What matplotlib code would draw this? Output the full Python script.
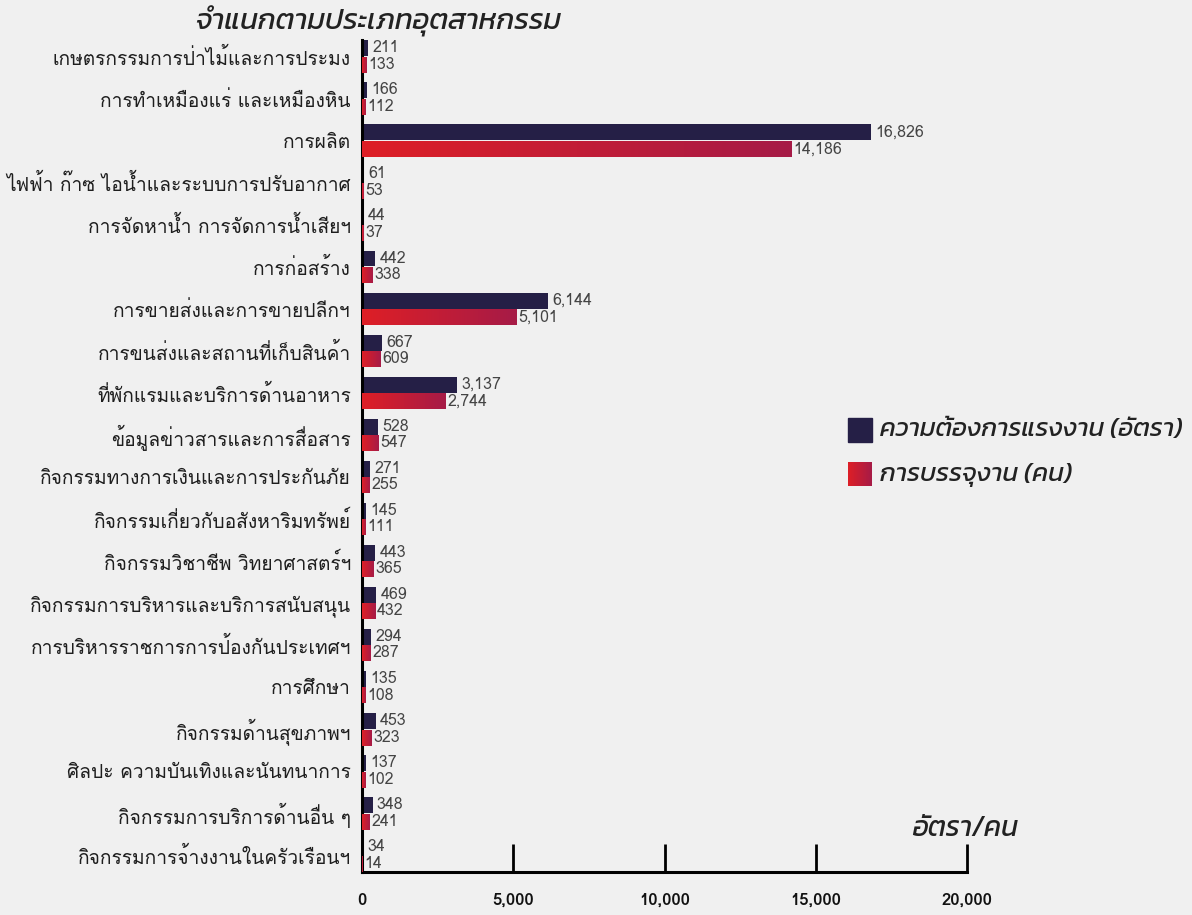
import numpy as np
import matplotlib
matplotlib.use("Agg")
import matplotlib.pyplot as plt
from matplotlib.colors import LinearSegmentedColormap
from matplotlib.patches import Rectangle

# ข้อมูล
categories = [
    "เกษตรกรรมการป่าไม้และการประมง",
    "การทำเหมืองแร่ และเหมืองหิน",
    "การผลิต",
    "ไฟฟ้า ก๊าซ ไอน้ำและระบบการปรับอากาศ",
    "การจัดหาน้ำ การจัดการน้ำเสียฯ",
    "การก่อสร้าง",
    "การขายส่งและการขายปลีกฯ",
    "การขนส่งและสถานที่เก็บสินค้า",
    "ที่พักแรมและบริการด้านอาหาร",
    "ข้อมูลข่าวสารและการสื่อสาร",
    "กิจกรรมทางการเงินและการประกันภัย",
    "กิจกรรมเกี่ยวกับอสังหาริมทรัพย์",
    "กิจกรรมวิชาชีพ วิทยาศาสตร์ฯ",
    "กิจกรรมการบริหารและบริการสนับสนุน",
    "การบริหารราชการการป้องกันประเทศฯ",
    "การศึกษา",
    "กิจกรรมด้านสุขภาพฯ",
    "ศิลปะ ความบันเทิงและนันทนาการ",
    "กิจกรรมการบริการด้านอื่น ๆ",
    "กิจกรรมการจ้างงานในครัวเรือนฯ",
]
demand = [211, 166, 16826, 61, 44, 442, 6144, 667, 3137, 528,
          271, 145, 443, 469, 294, 135, 453, 137, 348, 34]
placed = [133, 112, 14186, 53, 37, 338, 5101, 609, 2744, 547,
          255, 111, 365, 432, 287, 108, 323, 102, 241, 14]
xticks = [0, 5000, 10000, 15000, 20000]

label_demand = "ความต้องการแรงงาน (อัตรา)"
label_placed = "การบรรจุงาน (คน)"

bg = "#f0f0f0"
dark = "#251f46"
red_cmap = LinearSegmentedColormap.from_list("rg", ["#de1f26", "#a61b47"])

f_label = ["Loma", "Noto Sans Thai Looped", "DejaVu Sans"]
f_title = ["Kanit", "DejaVu Sans"]

fig = plt.figure(figsize=(11.92, 9.15), dpi=100, facecolor=bg)
ax = fig.add_axes([362 / 1192, 43 / 915, 605 / 1192, 832 / 915], facecolor=bg)

y = np.arange(len(categories))
h = 0.38
ax.barh(y - 0.2, demand, height=h, color=dark, zorder=2)
bars_red = ax.barh(y + 0.2, placed, height=h, color="#de1f26", zorder=2)

# ไล่สีแดง
grad = np.linspace(0, 1, 256).reshape(1, -1)
for b in bars_red:
    x0, y0 = b.get_x(), b.get_y()
    w, hh = b.get_width(), b.get_height()
    ax.imshow(grad, cmap=red_cmap, aspect="auto", extent=(x0, x0 + w, y0, y0 + hh),
              zorder=3, interpolation="bilinear")

for i in range(len(categories)):
    ax.annotate(f"{demand[i]:,}", (demand[i], y[i] - 0.2), xytext=(3, 0),
                textcoords="offset points", va="center", ha="left",
                fontsize=11.5, color="#444444", family=f_label)
    ax.annotate(f"{placed[i]:,}", (placed[i], y[i] + 0.2), xytext=(1.5, 0),
                textcoords="offset points", va="center", ha="left",
                fontsize=11.5, color="#444444", family=f_label)

ax.set_xlim(0, 20000)
ax.set_ylim(len(categories) - 0.6, -0.4)
ax.set_yticks(y)
ax.set_yticklabels(categories, fontsize=13.8, family=f_label, color="#1e1e1e")
ax.tick_params(axis="y", length=0, pad=8)
ax.set_xticks(xticks)
ax.set_xticklabels([f"{t:,}" for t in xticks], fontsize=12, family=f_label,
                   color="#111111", fontweight="bold")
ax.tick_params(axis="x", direction="in", length=20, width=2, pad=15, color="black")

for s in ["top", "right"]:
    ax.spines[s].set_visible(False)
for s in ["left", "bottom"]:
    ax.spines[s].set_linewidth(2.2)
    ax.spines[s].set_color("black")

fig.text(195 / 1192, 1 - 21 / 915, "จำแนกตามประเภทอุตสาหกรรม", fontsize=21,
         style="italic", family=f_title, color="#222222", va="center", ha="left")
fig.text(912 / 1192, 1 - 829 / 915, "อัตรา/คน", fontsize=20,
         style="italic", family=f_title, color="#222222", va="center", ha="left")

# คำอธิบาย
fig.patches.append(Rectangle((848 / 1192, 1 - 442 / 915), 24 / 1192, 24 / 915,
                             transform=fig.transFigure, color=dark))
lax = fig.add_axes([848 / 1192, 1 - 486 / 915, 24 / 1192, 24 / 915])
lax.imshow(grad, cmap=red_cmap, aspect="auto", interpolation="bilinear")
lax.axis("off")
fig.text(880 / 1192, 1 - 430 / 915, label_demand, fontsize=18.5, style="italic",
         family=f_title, color="#222222", va="center", ha="left")
fig.text(880 / 1192, 1 - 475 / 915, label_placed, fontsize=18.5, style="italic",
         family=f_title, color="#222222", va="center", ha="left")

fig.savefig("out.png", dpi=100, facecolor=bg)
